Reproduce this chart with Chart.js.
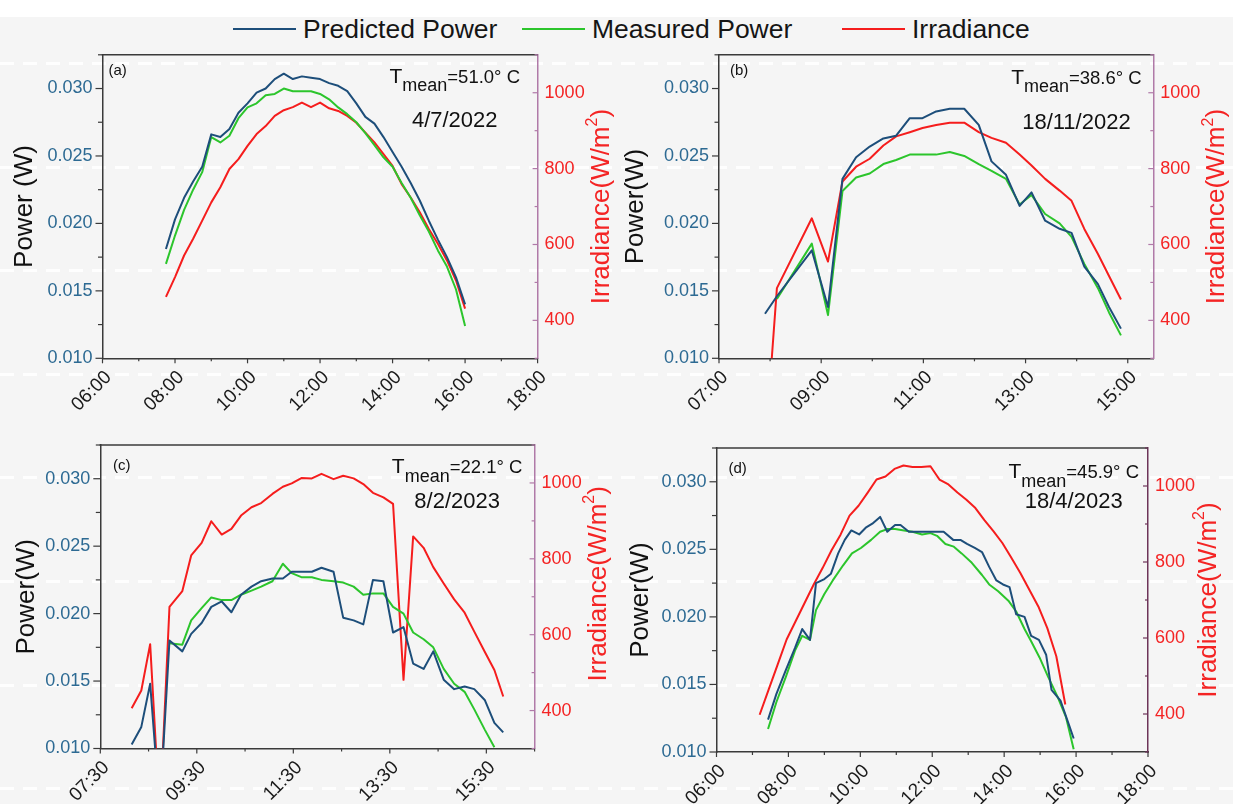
<!DOCTYPE html>
<html>
<head>
<meta charset="utf-8">
<script src="https://cdn.jsdelivr.net/npm/chart.js@4.4.1/dist/chart.umd.min.js"></script>
<style>
  html, body { margin: 0; padding: 0; }
  body {
    width: 1233px; height: 804px; position: relative; overflow: hidden;
    background: #f5f5f5;
    font-family: "Liberation Sans", Arial, Helvetica, sans-serif;
  }
  .top-band { position: absolute; left: 0; top: 0; width: 1233px; height: 17px; background: #fff; }
  .dashes {
    position: absolute; left: 0; top: 62px; width: 1233px; height: 742px;
    background-image: repeating-linear-gradient(90deg, rgba(255,255,255,0.85) 0 14px, rgba(255,255,255,0) 14px 23px);
    -webkit-mask-image: repeating-linear-gradient(180deg, #000 0 3px, transparent 3px 103.6px);
    mask-image: repeating-linear-gradient(180deg, #000 0 3px, transparent 3px 103.6px);
  }
  canvas { position: absolute; }
  .legend-item {
    position: absolute; top: 15px; height: 28px;
    display: flex; align-items: center;
    font-size: 26.5px; color: #151515; white-space: nowrap;
  }
  .legend-item .swatch { display: inline-block; width: 63px; height: 2.5px; margin-right: 7px; }
</style>
</head>
<body>
<div class="top-band"></div>
<div class="dashes"></div>
<div id="legend"></div>

<script>
const seriesNames = ['Predicted Power', 'Measured Power', 'Irradiance'];
const seriesColors = ['#1d4e7a', '#2cc52c', '#f51d1d'];

const powerTicks = ['0.010', '0.015', '0.020', '0.025', '0.030'];
const irradianceTicks = ['400', '600', '800', '1000'];
const irradianceTitle = ['Irradiance(W/m', '2', ')'];

const meanTemps = ['51.0', '38.6', '22.1', '45.9'];
const dates = ['4/7/2022', '18/11/2022', '8/2/2023', '18/4/2023'];

// (a) 4/7/2022
const hoursA = ['06:00', '08:00', '10:00', '12:00', '14:00', '16:00', '18:00'];
const timeA = ['07:45', '08:00', '08:15', '08:30', '08:45', '09:00', '09:15', '09:30', '09:45',
  '10:00', '10:15', '10:30', '10:45', '11:00', '11:15', '11:30', '11:45', '12:00', '12:15',
  '12:30', '12:45', '13:00', '13:15', '13:30', '13:45', '14:00', '14:15', '14:30', '14:45',
  '15:00', '15:15', '15:30', '15:45', '16:00'];
const predictedA = [0.0181, 0.0203, 0.0219, 0.0231, 0.0242, 0.0266, 0.0264, 0.0270, 0.0282,
  0.0289, 0.0297, 0.0300, 0.0307, 0.0311, 0.0307, 0.0309, 0.0308, 0.0307, 0.0304, 0.0302,
  0.0298, 0.0289, 0.0279, 0.0274, 0.0264, 0.0253, 0.0242, 0.0230, 0.0217, 0.0202, 0.0188,
  0.0175, 0.0160, 0.0140];
const measuredA = [0.0170, 0.0191, 0.0210, 0.0225, 0.0238, 0.0264, 0.0260, 0.0265, 0.0278,
  0.0286, 0.0289, 0.0295, 0.0296, 0.0300, 0.0298, 0.0298, 0.0298, 0.0296, 0.0292, 0.0286,
  0.0281, 0.0275, 0.0267, 0.0258, 0.0249, 0.0242, 0.0230, 0.0219, 0.0206, 0.0194, 0.0180,
  0.0168, 0.0151, 0.0124];
const irradianceA = [462, 514, 571, 615, 663, 711, 751, 799, 825, 860, 891, 912, 939, 954,
  962, 974, 962, 974, 959, 952, 939, 921, 895, 869, 838, 807, 759, 724, 685, 641, 602, 558,
  505, 431];

// (b) 18/11/2022
const hoursB = ['07:00', '09:00', '11:00', '13:00', '15:00'];
const timeB = ['07:54', '08:01', '08:08', '08:49', '09:08', '09:25', '09:41', '09:57', '10:13',
  '10:28', '10:44', '10:59', '11:15', '11:31', '11:48', '12:05', '12:20', '12:37', '12:53',
  '13:07', '13:23', '13:40', '13:54', '14:09', '14:25', '14:38', '14:52'];
const predictedB = [0.0133, null, 0.0146, 0.0180, 0.0138, 0.0233, 0.0249, 0.0257, 0.0263,
  0.0265, 0.0278, 0.0278, 0.0283, 0.0285, 0.0285, 0.0273, 0.0246, 0.0236, 0.0213, 0.0223,
  0.0202, 0.0196, 0.0193, 0.0168, 0.0155, 0.0138, 0.0122];
const measuredB = [null, null, 0.0144, 0.0185, 0.0132, 0.0224, 0.0234, 0.0237, 0.0244,
  0.0247, 0.0251, 0.0251, 0.0251, 0.0253, 0.0250, 0.0244, 0.0239, 0.0233, 0.0214, 0.0221,
  0.0207, 0.0200, 0.0190, 0.0170, 0.0152, 0.0134, 0.0117];
const irradianceB = [null, 270, 485, 669, 555, 766, 805, 826, 861, 885, 896, 907, 915, 921,
  921, 896, 881, 868, 837, 808, 773, 742, 715, 641, 575, 517, 455];

// (c) 8/2/2023
const hoursC = ['07:30', '09:30', '11:30', '13:30', '15:30'];
const timeC = ['08:09', '08:21', '08:32', '08:44', '08:56', '09:12', '09:23', '09:36', '09:48',
  '10:01', '10:13', '10:25', '10:38', '10:50', '11:04', '11:17', '11:28', '11:40', '11:53',
  '12:05', '12:20', '12:32', '12:45', '12:57', '13:09', '13:22', '13:34', '13:47', '13:59',
  '14:12', '14:24', '14:37', '14:50', '15:03', '15:15', '15:28', '15:40', '15:51'];
const predictedC = [0.0103, 0.0116, 0.0148, 0.0055, 0.0180, 0.0172, 0.0185, 0.0193, 0.0205,
  0.0209, 0.0201, 0.0214, 0.0220, 0.0224, 0.0226, 0.0226, 0.0231, 0.0231, 0.0231, 0.0234,
  0.0231, 0.0197, 0.0195, 0.0192, 0.0225, 0.0224, 0.0186, 0.0190, 0.0163, 0.0159, 0.0172,
  0.0151, 0.0144, 0.0146, 0.0144, 0.0136, 0.0119, 0.0112];
const measuredC = [null, null, null, null, 0.0178, 0.0177, 0.0195, 0.0204, 0.0212, 0.0210,
  0.0210, 0.0214, 0.0217, 0.0220, 0.0224, 0.0237, 0.0230, 0.0227, 0.0227, 0.0225, 0.0224,
  0.0223, 0.0220, 0.0214, 0.0215, 0.0215, 0.0205, 0.0200, 0.0186, 0.0181, 0.0175, 0.0159,
  0.0148, 0.0142, 0.0129, 0.0114, 0.0101, null];
const irradianceC = [406, 453, 575, 120, 673, 715, 809, 842, 899, 864, 879, 914, 936, 947,
  971, 990, 999, 1013, 1012, 1024, 1010, 1019, 1012, 997, 974, 962, 945, 481, 859, 829, 778,
  735, 693, 658, 608, 555, 507, 437];

// (d) 18/4/2023
const hoursD = ['06:00', '08:00', '10:00', '12:00', '14:00', '16:00', '18:00'];
const timeDPredicted = ['07:26', '07:40', '07:56', '08:11', '08:23', '08:36', '08:46', '09:00',
  '09:11', '09:23', '09:34', '09:45', '09:58', '10:09', '10:20', '10:33', '10:45', '10:58',
  '11:07', '11:21', '11:34', '11:49', '12:04', '12:19', '12:35', '12:47', '12:58', '13:11',
  '13:23', '13:35', '13:47', '13:58', '14:09', '14:20', '14:34', '14:45', '14:58', '15:10',
  '15:19', '15:34', '15:49', '15:56'];
const predictedD = [0.0124, 0.0143, 0.0161, 0.0177, 0.0191, 0.0183, 0.0225, 0.0228, 0.0232,
  0.0247, 0.0257, 0.0264, 0.0261, 0.0266, 0.0269, 0.0274, 0.0263, 0.0268, 0.0268, 0.0263,
  0.0263, 0.0263, 0.0263, 0.0263, 0.0257, 0.0257, 0.0254, 0.0251, 0.0248, 0.0237, 0.0227,
  0.0224, 0.0222, 0.0202, 0.0200, 0.0186, 0.0183, 0.0172, 0.0146, 0.0138, 0.0119, 0.0110];
const timeDMeasured = ['07:26', '07:40', '07:56', '08:11', '08:23', '08:36', '08:46', '09:00',
  '09:14', '09:31', '09:46', '10:01', '10:18', '10:33', '10:45', '10:58', '11:13', '11:27',
  '11:43', '11:57', '12:08', '12:22', '12:36', '12:49', '13:06', '13:23', '13:35', '13:50',
  '14:07', '14:20', '14:34', '14:45', '14:59', '15:13', '15:29', '15:43', '15:56'];
const measuredD = [0.0117, 0.0137, 0.0156, 0.0175, 0.0186, 0.0183, 0.0205, 0.0217, 0.0227,
  0.0238, 0.0247, 0.0251, 0.0257, 0.0263, 0.0265, 0.0265, 0.0264, 0.0263, 0.0261, 0.0262,
  0.0260, 0.0254, 0.0252, 0.0247, 0.0240, 0.0231, 0.0224, 0.0219, 0.0212, 0.0204, 0.0191,
  0.0182, 0.0170, 0.0156, 0.0141, 0.0126, 0.0102];
const timeDIrradiance = ['07:12', '07:27', '07:42', '07:57', '08:12', '08:27', '08:42', '08:57',
  '09:12', '09:27', '09:42', '09:57', '10:12', '10:27', '10:42', '10:57', '11:12', '11:27',
  '11:42', '11:57', '12:12', '12:27', '12:42', '12:57', '13:12', '13:27', '13:42', '13:57',
  '14:12', '14:27', '14:42', '14:57', '15:12', '15:27', '15:42'];
const irradianceD = [398, 464, 530, 596, 644, 692, 740, 784, 831, 872, 922, 948, 982, 1017,
  1025, 1045, 1054, 1050, 1050, 1052, 1017, 1004, 983, 964, 942, 910, 881, 850, 811, 771,
  727, 683, 626, 552, 425];

const FONT = '"Liberation Sans", Arial, Helvetica, sans-serif';
Chart.defaults.font.family = FONT;

const AXIS_COLOR = '#3a3a3a';
const POWER_TICK_COLOR = '#2d6a93';
const RED_TEXT = '#f42424';

function toHours(s) {
  const [h, m] = s.split(':').map(Number);
  return h + m / 60;
}

// labelled ticks from the string list, plus an unlabelled one half-way between
function buildTicks(labels, toValue, min, max) {
  const majors = labels.map(toValue);
  const half = (majors[1] - majors[0]) / 2;
  const eps = half * 1e-6;
  const out = majors.map((v, i) => ({ value: v, text: labels[i] }));
  majors.forEach(v => {
    [v - half, v + half].forEach(m => {
      if (m >= min - eps && m <= max + eps && !out.some(t => Math.abs(t.value - m) < eps)) {
        out.push({ value: m, text: '' });
      }
    });
  });
  return out.sort((a, b) => a.value - b.value);
}

function line(times, values, color, axis) {
  return {
    data: times.map((t, i) => ({ x: toHours(t), y: values[i] })),
    borderColor: color,
    borderWidth: 2,
    borderJoinStyle: 'round',
    pointRadius: 0,
    tension: 0,
    spanGaps: true,
    fill: false,
    yAxisID: axis
  };
}

function drawIrradianceTitle(ctx, cx, cy) {
  const main = '26px ' + FONT;
  const sup = '16px ' + FONT;
  ctx.save();
  ctx.translate(cx, cy);
  ctx.rotate(-Math.PI / 2);
  ctx.fillStyle = RED_TEXT;
  ctx.textBaseline = 'middle';
  ctx.textAlign = 'left';
  ctx.font = main;
  const w1 = ctx.measureText(irradianceTitle[0]).width;
  const w3 = ctx.measureText(irradianceTitle[2]).width;
  ctx.font = sup;
  const w2 = ctx.measureText(irradianceTitle[1]).width;
  let x = -(w1 + w2 + w3) / 2;
  ctx.font = main;
  ctx.fillText(irradianceTitle[0], x, 0);
  x += w1;
  ctx.font = sup;
  ctx.fillText(irradianceTitle[1], x, -9);
  x += w2;
  ctx.font = main;
  ctx.fillText(irradianceTitle[2], x, 0);
  ctx.restore();
}

// T_mean label, right-aligned; returns its left and right ends
function drawMeanTemp(ctx, right, base, temp) {
  const parts = [
    { text: 'T', font: '21px ' + FONT, dy: 0 },
    { text: 'mean', font: '18px ' + FONT, dy: 8.5 },
    { text: '=' + temp + '\u00b0 C', font: '18.5px ' + FONT, dy: 0 }
  ];
  let total = 0;
  parts.forEach(p => { ctx.font = p.font; p.w = ctx.measureText(p.text).width; total += p.w; });
  let x = right - total;
  const left = x;
  ctx.fillStyle = '#111';
  ctx.textAlign = 'left';
  ctx.textBaseline = 'alphabetic';
  parts.forEach(p => { ctx.font = p.font; ctx.fillText(p.text, x, base + p.dy); x += p.w; });
  return { left, right };
}

const panelDecor = {
  id: 'panelDecor',
  afterDatasetsDraw(chart, args, opts) {
    const { ctx, chartArea: a } = chart;
    ctx.save();

    // top frame
    ctx.strokeStyle = AXIS_COLOR;
    ctx.lineWidth = 1.5;
    ctx.beginPath();
    ctx.moveTo(a.left - 0.75, a.top);
    ctx.lineTo(a.right, a.top);
    ctx.stroke();

    // tick marks: outward on x and left y, inward on the right axis
    ctx.lineWidth = 1.2;
    const sx = chart.scales.x, sy = chart.scales.y, sr = chart.scales.y1;
    ctx.strokeStyle = AXIS_COLOR;
    sx.ticks.forEach(t => {
      const px = sx.getPixelForValue(t.value);
      const len = t.text ? 5 : 3;
      ctx.beginPath(); ctx.moveTo(px, a.bottom); ctx.lineTo(px, a.bottom + len); ctx.stroke();
    });
    sy.ticks.forEach(t => {
      const py = sy.getPixelForValue(t.value);
      const len = t.text ? 7 : 4.5;
      ctx.beginPath(); ctx.moveTo(a.left, py); ctx.lineTo(a.left - len, py); ctx.stroke();
    });
    ctx.strokeStyle = opts.rightAxisColor;
    sr.ticks.forEach(t => {
      const py = sr.getPixelForValue(t.value);
      const len = t.text ? 5 : 3;
      ctx.beginPath(); ctx.moveTo(a.right, py); ctx.lineTo(a.right - len, py); ctx.stroke();
    });

    // panel letter
    ctx.fillStyle = '#111';
    ctx.font = '15px ' + FONT;
    ctx.textAlign = 'left';
    ctx.textBaseline = 'alphabetic';
    ctx.fillText(opts.letter, a.left + opts.letterDx, a.top + opts.letterDy);

    // mean temperature and date
    const span = drawMeanTemp(ctx, a.right - opts.tempDx, a.top + opts.tempDy, opts.temp);
    ctx.font = '22px ' + FONT;
    ctx.textAlign = 'center';
    ctx.fillStyle = '#111';
    ctx.fillText(opts.date, (span.left + span.right) / 2, a.top + opts.dateDy);

    drawIrradianceTitle(ctx, a.right + opts.irrTitleDx, (a.top + a.bottom) / 2 + opts.irrTitleDy);
    ctx.restore();
  }
};

const panels = [
  {
    canvas: { left: 0, top: 40, width: 625, height: 395 },
    area: { left: 102.5, top: 54, right: 537.6, bottom: 358.3 },
    xRange: ['06:00', '18:00'], hours: hoursA,
    powerTitle: 'Power (W)', powerTitleX: 25,
    decor: { letter: '(a)', letterDx: 6, letterDy: 20, temp: meanTemps[0], date: dates[0],
      tempDx: 17.6, tempDy: 27.7, dateDy: 72, irrTitleDx: 64, irrTitleDy: 0, rightAxisColor: '#b07aa8' },
    series: [[timeA, predictedA], [timeA, measuredA], [timeA, irradianceA]]
  },
  {
    canvas: { left: 610, top: 40, width: 623, height: 395 },
    area: { left: 719, top: 53, right: 1153.3, bottom: 358.3 },
    xRange: ['07:00', '15:30'], hours: hoursB,
    powerTitle: 'Power(W)', powerTitleX: 636,
    decor: { letter: '(b)', letterDx: 11, letterDy: 20.5, temp: meanTemps[1], date: dates[1],
      tempDx: 11.6, tempDy: 28.7, dateDy: 73.7, irrTitleDx: 64, irrTitleDy: 0, rightAxisColor: '#b07aa8' },
    series: [[timeB, predictedB], [timeB, measuredB], [timeB, irradianceB]]
  },
  {
    canvas: { left: 0, top: 430, width: 625, height: 374 },
    area: { left: 100.3, top: 445, right: 534.6, bottom: 748.5 },
    xRange: ['07:30', '16:30'], hours: hoursC,
    powerTitle: 'Power(W)', powerTitleX: 27,
    decor: { letter: '(c)', letterDx: 12.7, letterDy: 25, temp: meanTemps[2], date: dates[2],
      tempDx: 12.2, tempDy: 28.3, dateDy: 63.3, irrTitleDx: 64, irrTitleDy: -13, rightAxisColor: '#b07aa8' },
    series: [[timeC, predictedC], [timeC, measuredC], [timeC, irradianceC]]
  },
  {
    canvas: { left: 610, top: 430, width: 623, height: 374 },
    area: { left: 716.5, top: 448, right: 1148, bottom: 752 },
    xRange: ['06:00', '18:00'], hours: hoursD,
    powerTitle: 'Power(W)', powerTitleX: 641,
    decor: { letter: '(d)', letterDx: 12, letterDy: 25, temp: meanTemps[3], date: dates[3],
      tempDx: 9, tempDy: 30, dateDy: 60, irrTitleDx: 61, irrTitleDy: 0, rightAxisColor: '#6d3459' },
    series: [[timeDPredicted, predictedD], [timeDMeasured, measuredD], [timeDIrradiance, irradianceD]]
  }
];

function buildPanel(p) {
  const c = p.canvas, a = p.area;
  const cv = document.createElement('canvas');
  cv.width = c.width;
  cv.height = c.height;
  cv.style.left = c.left + 'px';
  cv.style.top = c.top + 'px';
  cv.style.width = c.width + 'px';
  cv.style.height = c.height + 'px';
  document.body.appendChild(cv);

  const xMin = toHours(p.xRange[0]), xMax = toHours(p.xRange[1]);
  const pMin = 0.010, pMax = 0.0325, iMin = 300, iMax = 1100;
  const tickText = (v, i, ticks) => ticks[i].text || '';

  new Chart(cv, {
    type: 'line',
    data: {
      datasets: p.series.map((s, i) => line(s[0], s[1], seriesColors[i], i === 2 ? 'y1' : 'y'))
    },
    plugins: [panelDecor],
    options: {
      responsive: false,
      animation: false,
      devicePixelRatio: 1,
      events: [],
      layout: { padding: { top: a.top - c.top, left: 0, right: 0, bottom: 0 } },
      plugins: {
        legend: { display: false },
        tooltip: { enabled: false },
        panelDecor: p.decor
      },
      scales: {
        x: {
          type: 'linear',
          min: xMin, max: xMax,
          afterBuildTicks: s => { s.ticks = buildTicks(p.hours, toHours, xMin, xMax); },
          afterFit: s => { s.height = c.height - (a.bottom - c.top); },
          ticks: { callback: tickText, autoSkip: false, minRotation: 45, maxRotation: 45,
            color: '#1a1a1a', font: { size: 19 }, padding: 2, labelOffset: 6 },
          grid: { drawOnChartArea: false, color: 'rgba(0,0,0,0)', tickLength: 6 },
          border: { color: AXIS_COLOR, width: 1.5 }
        },
        y: {
          type: 'linear',
          position: 'left',
          min: pMin, max: pMax,
          afterBuildTicks: s => { s.ticks = buildTicks(powerTicks, Number, pMin, pMax); },
          afterFit: s => { s.width = a.left - c.left; },
          ticks: { callback: tickText, autoSkip: false, color: POWER_TICK_COLOR, font: { size: 18 }, padding: 4 },
          grid: { drawOnChartArea: false, color: 'rgba(0,0,0,0)', tickLength: 6 },
          border: { color: AXIS_COLOR, width: 1.5 },
          title: {
            display: true, text: p.powerTitle, color: '#111', font: { size: 26 },
            padding: { top: p.powerTitleX - c.left - 15.6, bottom: 0 }
          }
        },
        y1: {
          type: 'linear',
          position: 'right',
          min: iMin, max: iMax,
          afterBuildTicks: s => { s.ticks = buildTicks(irradianceTicks, Number, iMin, iMax); },
          afterFit: s => { s.width = c.left + c.width - a.right; },
          ticks: { callback: tickText, autoSkip: false, color: RED_TEXT, font: { size: 18 }, padding: 4 },
          grid: { drawOnChartArea: false, color: 'rgba(0,0,0,0)', tickLength: 3 },
          border: { color: p.decor.rightAxisColor, width: 1.5 }
        }
      }
    }
  });
}

panels.forEach(buildPanel);

// shared legend across the top
const legendLeft = [233, 522, 842];
const legend = document.getElementById('legend');
seriesNames.forEach((name, i) => {
  const item = document.createElement('div');
  item.className = 'legend-item';
  item.style.left = legendLeft[i] + 'px';
  const sw = document.createElement('span');
  sw.className = 'swatch';
  sw.style.background = seriesColors[i];
  const label = document.createElement('span');
  label.textContent = name;
  item.appendChild(sw);
  item.appendChild(label);
  legend.appendChild(item);
});
</script>
</body>
</html>
